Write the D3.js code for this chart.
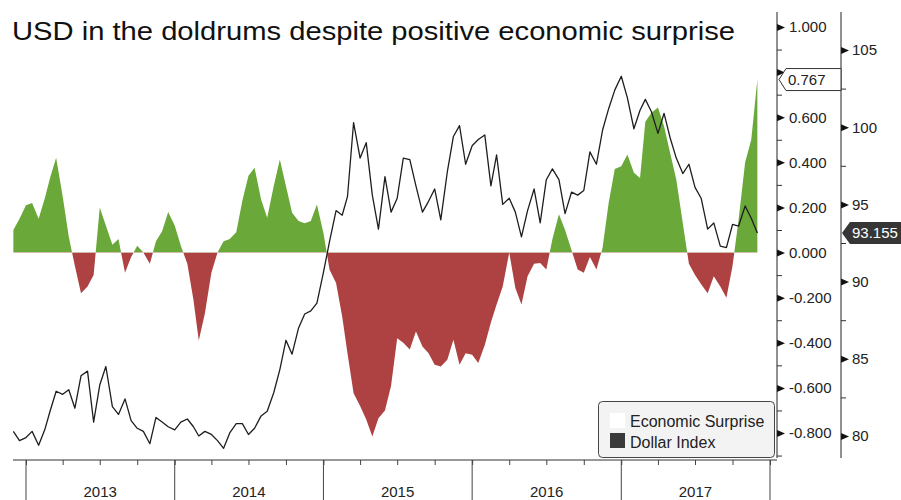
<!DOCTYPE html>
<html>
<head>
<meta charset="utf-8">
<script src="https://cdn.jsdelivr.net/npm/d3@7"></script>
<style>
  body { margin: 0; background: #fff; }
</style>
</head>
<body>
<div id="chart"></div>
<script>
var svgWidth = 901;
var svgHeight = 500;

// semi-monthly observations, 1 Dec 2012 .. 1 Dec 2017
var dates = [];
for (var yr = 2012; yr <= 2017; yr++) {
  for (var m = 0; m < 12; m++) {
    [1, 16].forEach(function(day) {
      var dt = new Date(yr, m, day);
      if (dt >= new Date(2012, 11, 1) && dt <= new Date(2017, 11, 1)) dates.push(dt);
    });
  }
}

var surprise = [
  0.10, 0.15, 0.21, 0.22, 0.15, 0.24, 0.33, 0.42, 0.25, 0.07,
  -0.06, -0.18, -0.15, -0.10, 0.20, 0.12, 0.035, 0.06, -0.09, -0.02,
  0.03, 0.00, -0.05, 0.05, 0.095, 0.18, 0.12, 0.03, -0.05, -0.21,
  -0.39, -0.27, -0.09, 0.00, 0.05, 0.06, 0.09, 0.23, 0.34, 0.376,
  0.235, 0.154, 0.295, 0.413, 0.295, 0.176, 0.14, 0.13, 0.14, 0.213,
  0.087, -0.076, -0.135, -0.283, -0.446, -0.624, -0.68, -0.74, -0.816, -0.735,
  -0.70, -0.59, -0.38, -0.40, -0.43, -0.35, -0.416, -0.446, -0.497, -0.505,
  -0.475, -0.387, -0.497, -0.446, -0.453, -0.49, -0.41, -0.31, -0.23, -0.15,
  0.00, -0.157, -0.23, -0.105, -0.05, -0.046, -0.075, 0.06, 0.17, 0.10,
  0.01, -0.075, -0.09, -0.02, -0.075, 0.02, 0.22, 0.37, 0.383, 0.435,
  0.354, 0.33, 0.58, 0.62, 0.643, 0.56, 0.44, 0.324, 0.13, -0.05,
  -0.10, -0.14, -0.18, -0.105, -0.15, -0.20, -0.06, 0.147, 0.40, 0.50,
  0.767
];

var dollarIndex = [
  80.3, 79.7, 79.9, 80.3, 79.4, 80.4, 81.6, 82.9, 82.7, 83.0,
  81.8, 83.9, 84.2, 80.9, 83.3, 84.5, 81.9, 81.4, 82.4, 81.0,
  80.5, 80.3, 79.5, 81.2, 80.9, 80.6, 80.4, 80.9, 81.1, 80.6,
  80.0, 80.3, 80.1, 79.7, 79.2, 80.2, 80.8, 80.8, 80.1, 80.5,
  81.3, 81.6, 82.8, 84.3, 86.2, 85.3, 87.0, 87.9, 88.1, 88.6,
  90.6, 92.6, 94.6, 94.3, 95.5, 100.3, 98.0, 99.0, 95.6, 93.4,
  96.8, 94.5, 95.4, 98.0, 97.9, 96.2, 94.5, 95.2, 96.0, 94.0,
  97.1, 99.4, 100.1, 97.6, 98.8, 99.2, 99.5, 96.2, 98.2, 95.0,
  95.4, 94.5, 92.9, 94.6, 96.0, 93.8, 96.6, 97.3, 96.6, 94.4,
  95.8, 95.6, 95.9, 98.4, 97.6, 99.8, 101.2, 102.4, 103.3, 101.9,
  99.9, 101.1, 101.8, 101.0, 99.6, 100.9, 99.3, 98.0, 97.0, 97.6,
  96.1, 95.4, 93.4, 93.8, 92.3, 92.2, 93.7, 93.6, 94.9, 94.1,
  93.155
];

var surpTicks = [-0.8, -0.6, -0.4, -0.2, 0, 0.2, 0.4, 0.6, 0.8, 1.0];
var surpMinor = [-0.9, -0.7, -0.5, -0.3, -0.1, 0.1, 0.3, 0.5, 0.7, 0.9];
var dollarTicks = [80, 85, 90, 95, 100, 105];
var dollarMinor = [82.5, 87.5, 92.5, 97.5, 102.5];
var yearLabels = ["2013", "2014", "2015", "2016", "2017"];
var legendLabels = ["Economic Surprise", "Dollar Index"];
var lastSurprise = "0.767";
var lastDollar = "93.155";

var font = "'Liberation Sans', Arial, sans-serif";

var svg = d3.select("#chart")
  .append("svg")
  .attr("width", svgWidth)
  .attr("height", svgHeight)
  .style("background", "#fff");

var x = d3.scaleTime()
  .domain([new Date(2013, 0, 1), new Date(2018, 0, 1)])
  .range([26, 770]);

var ySurp = d3.scaleLinear().domain([-0.8, 1.0]).range([433, 27]);
var yDol = d3.scaleLinear().domain([80, 105]).range([436, 50]);

var zeroY = ySurp(0);

// clip regions above / below zero
var defs = svg.append("defs");
defs.append("clipPath").attr("id", "clipPos")
  .append("rect").attr("x", 0).attr("y", 0).attr("width", 777).attr("height", zeroY);
defs.append("clipPath").attr("id", "clipNeg")
  .append("rect").attr("x", 0).attr("y", zeroY).attr("width", 777).attr("height", 500 - zeroY);

var area = d3.area()
  .x(function(d, i) { return x(dates[i]); })
  .y0(zeroY)
  .y1(function(d) { return ySurp(d); });

svg.append("path")
  .datum(surprise)
  .attr("d", area)
  .attr("fill", "#6aa83a")
  .attr("clip-path", "url(#clipPos)");

svg.append("path")
  .datum(surprise)
  .attr("d", area)
  .attr("fill", "#ae4242")
  .attr("clip-path", "url(#clipNeg)");

var line = d3.line()
  .x(function(d, i) { return x(dates[i]); })
  .y(function(d) { return yDol(d); });

svg.append("path")
  .datum(dollarIndex)
  .attr("d", line)
  .attr("fill", "none")
  .attr("stroke", "#1e1e1e")
  .attr("stroke-width", 1.3)
  .attr("stroke-linejoin", "round");

// title
svg.append("text")
  .attr("x", 12)
  .attr("y", 40)
  .attr("font-family", font)
  .attr("font-size", 26)
  .attr("fill", "#111")
  .attr("textLength", 723)
  .attr("lengthAdjust", "spacingAndGlyphs")
  .text("USD in the doldrums despite positive economic surprise");

// x axis
var xAxisG = svg.append("g").attr("transform", "translate(0,460)");
xAxisG.call(d3.axisBottom(x).ticks(d3.timeMonth.every(3)).tickSize(5).tickFormat(""));
xAxisG.select(".domain").remove();
xAxisG.selectAll(".tick line").attr("stroke", "#444");

svg.append("line")
  .attr("x1", 13).attr("x2", 777)
  .attr("y1", 460).attr("y2", 460)
  .attr("stroke", "#333");

svg.selectAll(".yearDiv")
  .data(d3.range(2013, 2019))
  .enter()
  .append("line")
  .attr("x1", function(d) { return x(new Date(d, 0, 1)); })
  .attr("x2", function(d) { return x(new Date(d, 0, 1)); })
  .attr("y1", 460).attr("y2", 500)
  .attr("stroke", "#444");

svg.selectAll(".yearLabel")
  .data(yearLabels)
  .enter()
  .append("text")
  .attr("x", function(d) { return x(new Date(+d, 6, 2)); })
  .attr("y", 497)
  .attr("text-anchor", "middle")
  .attr("font-family", font)
  .attr("font-size", 15)
  .attr("fill", "#222")
  .text(function(d) { return d; });

// economic surprise axis
function styleAxis(g) {
  g.select(".domain").remove();
  g.attr("font-family", font).attr("font-size", 15);
  g.selectAll(".tick text").attr("fill", "#222");
  g.selectAll(".tick line").attr("stroke", "#333");
}

// the 0.800 label sits under the last-value callout, so it is left blank
var surpAxis = svg.append("g").attr("transform", "translate(777,0)")
  .call(d3.axisRight(ySurp).tickValues(surpTicks).tickSize(0).tickPadding(12)
    .tickFormat(function(d) { return d === 0.8 ? "" : d.toFixed(3); }))
  .call(styleAxis);
surpAxis.selectAll(".tick").append("path")
  .attr("d", "M0,-3.5L8,0L0,3.5Z").attr("fill", "#111");

svg.append("g").attr("transform", "translate(777,0)")
  .call(d3.axisRight(ySurp).tickValues(surpMinor).tickSize(5).tickFormat(""))
  .call(styleAxis);

svg.append("line")
  .attr("x1", 777).attr("x2", 777).attr("y1", 12).attr("y2", 458)
  .attr("stroke", "#222");

// dollar index axis
var dolAxis = svg.append("g").attr("transform", "translate(841,0)")
  .call(d3.axisRight(yDol).tickValues(dollarTicks).tickSize(0).tickPadding(11)
    .tickFormat(function(d) { return d; }))
  .call(styleAxis);
dolAxis.selectAll(".tick").append("path")
  .attr("d", "M0,-3.5L8,0L0,3.5Z").attr("fill", "#111");

svg.append("g").attr("transform", "translate(841,0)")
  .call(d3.axisRight(yDol).tickValues(dollarMinor).tickSize(5).tickFormat(""))
  .call(styleAxis);

svg.append("line")
  .attr("x1", 841).attr("x2", 841).attr("y1", 12).attr("y2", 458)
  .attr("stroke", "#222");

// last value callouts
var ys = ySurp(surprise[surprise.length - 1]);
svg.append("path")
  .attr("d", "M779," + ys + "L786," + (ys - 11) + "L841," + (ys - 11) + "L841," + (ys + 11) + "L786," + (ys + 11) + "Z")
  .attr("fill", "#fff")
  .attr("stroke", "#333");
svg.append("text")
  .attr("x", 788).attr("y", ys).attr("dy", "0.36em")
  .attr("font-family", font).attr("font-size", 15).attr("fill", "#222")
  .text(lastSurprise);

var yd = yDol(dollarIndex[dollarIndex.length - 1]);
svg.append("path")
  .attr("d", "M842," + yd + "L850," + (yd - 11) + "L901," + (yd - 11) + "L901," + (yd + 11) + "L850," + (yd + 11) + "Z")
  .attr("fill", "#363636");
svg.append("text")
  .attr("x", 852).attr("y", yd).attr("dy", "0.36em")
  .attr("font-family", font).attr("font-size", 15).attr("fill", "#fff")
  .text(lastDollar);

// legend
var legend = svg.append("g");
legend.append("rect")
  .attr("x", 598.5).attr("y", 401.5)
  .attr("width", 176).attr("height", 56)
  .attr("rx", 4)
  .attr("fill", "#f3f3f3")
  .attr("stroke", "#444");

var swatch = ["#ffffff", "#3a3a3a"];
legendLabels.forEach(function(lbl, i) {
  legend.append("rect")
    .attr("x", 610).attr("y", 413 + i * 20)
    .attr("width", 15).attr("height", 15)
    .attr("fill", swatch[i]);
  legend.append("text")
    .attr("x", 630).attr("y", 427 + i * 21)
    .attr("font-family", font).attr("font-size", 16).attr("fill", "#222")
    .text(lbl);
});
</script>
</body>
</html>
